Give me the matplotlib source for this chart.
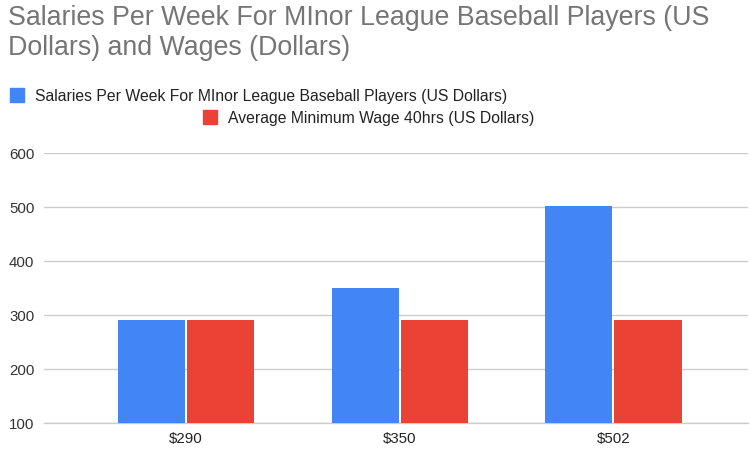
import matplotlib.pyplot as plt
from matplotlib.patches import Rectangle
import numpy as np

plt.rcParams['font.family'] = ['Liberation Sans', 'DejaVu Sans']

# Dữ liệu
categories = ['$290', '$350', '$502']
salaries = [290, 350, 502]
min_wage = [290, 290, 290]
series_names = ['Salaries Per Week For MInor League Baseball Players (US Dollars)',
                'Average Minimum Wage 40hrs (US Dollars)']
series_colors = ['#4285F4', '#EA4335']

fig = plt.figure(figsize=(7.5, 4.52), dpi=100)
ax = fig.add_axes([44 / 750, 1 - 424 / 452, 704 / 750, 270 / 452])

x = np.arange(len(categories))
w = 0.314
ax.bar(x - w / 2 - 0.005, salaries, w, color=series_colors[0], zorder=3)
ax.bar(x + w / 2 + 0.005, min_wage, w, color=series_colors[1], zorder=3)

ax.set_ylim(100, 600)
ax.set_xlim(-0.665, 2.63)
ax.set_yticks([100, 200, 300, 400, 500, 600])
ax.set_xticks(x)
ax.set_xticklabels(categories)
ax.grid(axis='y', color='#cccccc', linewidth=1, zorder=0)
ax.axhline(100, color='#cccccc', linewidth=1, zorder=0, clip_on=False)
for s in ['top', 'right', 'left', 'bottom']:
    ax.spines[s].set_visible(False)
ax.tick_params(axis='both', length=0, labelsize=10.8, colors='#444444')
ax.tick_params(axis='x', labelcolor='#222222', pad=6)
ax.tick_params(axis='y', labelcolor='#333333', pad=7)

# Tiêu đề
fig.text(8 / 750, 1 - 5 / 452,
         'Salaries Per Week For MInor League Baseball Players (US\nDollars) and Wages (Dollars)',
         fontsize=19.3, color='#757575', va='top', ha='left', linespacing=1.2)

# Chú thích
legend_pos = [(10, 89), (203, 111)]
for (lx, ly), name, col in zip(legend_pos, series_names, series_colors):
    fig.patches.append(Rectangle((lx / 750, 1 - (ly + 14) / 452), 14 / 750, 14 / 452,
                                 transform=fig.transFigure, color=col))
    fig.text((lx + 25) / 750, 1 - (ly + 7) / 452, name, fontsize=11.3,
             color='#222222', va='center', ha='left')

fig.savefig('out.png', dpi=100)
